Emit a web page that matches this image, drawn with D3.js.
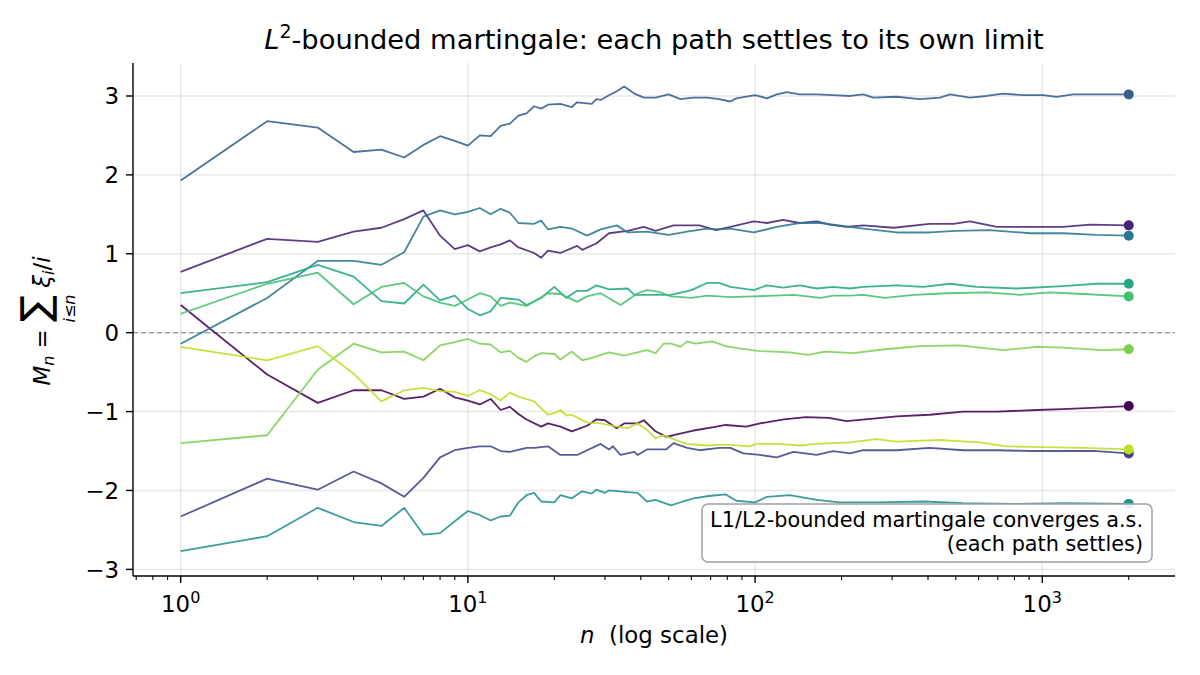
<!DOCTYPE html>
<html><head><meta charset="utf-8">
<script src="https://cdn.jsdelivr.net/npm/d3@7"></script>
<style>body{margin:0;background:#fff}svg{display:block}text{font-family:"DejaVu Sans",sans-serif;fill:#000}</style>
</head><body><svg id="c" width="1200" height="675"></svg>
<script>
// ---- data: [n, M_n] ----
const path0 = [[1,0.35],[2,-0.53],[3,-0.89],[4,-0.73],[5,-0.73],[6,-0.84],[7,-0.81],[8,-0.71],[9,-0.82],[10,-0.86],[11,-0.91],[12,-0.84],[13,-0.98],[14,-0.94],[15,-1.03],[16,-1.1],[18,-1.19],[19,-1.15],[21,-1.19],[23,-1.25],[26,-1.18],[28,-1.10],[30,-1.11],[33,-1.21],[35,-1.15],[39,-1.15],[41,-1.11],[45,-1.25],[49,-1.32],[52,-1.30],[61,-1.24],[71,-1.20],[79,-1.17],[93,-1.19],[104,-1.15],[126,-1.10],[150,-1.07],[181,-1.08],[208,-1.12],[258,-1.09],[311,-1.06],[405,-1.04],[530,-1.00],[695,-1.00],[960,-0.98],[1180,-0.97],[1545,-0.95],[2000,-0.93]];
const path1 = [[1,0.77],[2,1.19],[3,1.15],[4,1.28],[5,1.33],[6,1.44],[7,1.55],[8,1.23],[9,1.06],[10,1.11],[11,1.03],[12,1.08],[13,1.12],[14,1.17],[15,1.08],[17,1.01],[18,0.95],[19,1.04],[21,1.01],[24,1.10],[25,1.05],[28,1.13],[31,1.26],[36,1.29],[41,1.34],[45,1.29],[52,1.36],[64,1.36],[73,1.30],[82,1.34],[99,1.41],[110,1.39],[125,1.43],[143,1.39],[164,1.41],[182,1.37],[208,1.34],[238,1.36],[304,1.33],[405,1.38],[490,1.38],[560,1.41],[695,1.34],[912,1.34],[1180,1.34],[1467,1.37],[2000,1.36]];
const path2 = [[1,-2.33],[2,-1.85],[3,-1.99],[4,-1.76],[5,-1.91],[6,-2.08],[7,-1.84],[8,-1.58],[9,-1.49],[10,-1.46],[11,-1.44],[12,-1.44],[13,-1.50],[14,-1.51],[16,-1.46],[17,-1.46],[19,-1.44],[21,-1.55],[24,-1.55],[29,-1.41],[31,-1.48],[32,-1.44],[34,-1.55],[38,-1.51],[39,-1.55],[42,-1.48],[49,-1.48],[52,-1.40],[58,-1.46],[64,-1.49],[75,-1.46],[82,-1.46],[91,-1.53],[104,-1.55],[119,-1.58],[136,-1.51],[164,-1.55],[187,-1.50],[214,-1.53],[238,-1.49],[311,-1.49],[405,-1.46],[530,-1.49],[695,-1.49],[912,-1.50],[1180,-1.50],[1545,-1.50],[2000,-1.53]];
const path3 = [[1,1.93],[2,2.68],[3,2.60],[4,2.29],[5,2.32],[6,2.22],[7,2.38],[8,2.49],[9,2.43],[10,2.37],[11,2.50],[12,2.49],[13,2.62],[14,2.65],[15,2.75],[16,2.78],[17,2.87],[18,2.84],[19,2.89],[21,2.90],[23,2.86],[24,2.92],[27,2.90],[28,2.96],[29,2.95],[31,3.01],[33,3.06],[35,3.12],[38,3.03],[41,2.98],[45,2.98],[50,3.02],[55,2.96],[61,2.98],[68,2.98],[75,2.96],[82,2.93],[86,2.97],[100,3.01],[110,2.97],[119,3.02],[129,3.05],[143,3.02],[164,3.02],[187,3.01],[214,3.00],[238,3.02],[258,2.98],[311,2.99],[375,2.96],[440,2.98],[477,3.02],[560,2.98],[640,3.00],[731,3.03],[859,3.01],[1007,3.01],[1121,2.99],[1282,3.02],[1545,3.02],[1815,3.02],[2000,3.02]];
const path4 = [[1,-0.14],[2,0.44],[3,0.91],[4,0.91],[5,0.86],[6,1.02],[7,1.47],[8,1.55],[9,1.50],[10,1.53],[11,1.58],[12,1.50],[13,1.57],[14,1.52],[15,1.39],[17,1.38],[18,1.42],[19,1.31],[21,1.34],[23,1.32],[26,1.23],[29,1.31],[33,1.36],[36,1.27],[42,1.28],[50,1.24],[58,1.28],[68,1.32],[75,1.31],[82,1.32],[99,1.27],[119,1.34],[143,1.39],[169,1.39],[214,1.34],[238,1.32],[311,1.27],[405,1.27],[500,1.29],[656,1.30],[912,1.26],[1180,1.26],[1545,1.24],[2000,1.23]];
const path5 = [[1,-2.77],[2,-2.58],[3,-2.22],[4,-2.40],[5,-2.45],[6,-2.22],[7,-2.56],[8,-2.54],[9,-2.39],[10,-2.26],[11,-2.31],[12,-2.38],[13,-2.33],[14,-2.32],[15,-2.15],[16,-2.06],[17,-2.03],[18,-2.14],[20,-2.15],[21,-2.06],[23,-2.10],[25,-2.01],[27,-2.04],[28,-1.99],[30,-2.03],[31,-2.00],[36,-2.02],[39,-2.03],[42,-2.14],[45,-2.12],[51,-2.19],[56,-2.14],[61,-2.10],[69,-2.07],[79,-2.05],[86,-2.13],[100,-2.15],[110,-2.08],[132,-2.06],[164,-2.12],[197,-2.15],[264,-2.15],[386,-2.14],[530,-2.16],[800,-2.17],[1200,-2.16],[2000,-2.17]];
const path6 = [[1,0.50],[2,0.64],[3,0.86],[4,0.71],[5,0.40],[6,0.37],[7,0.61],[8,0.41],[9,0.47],[10,0.30],[11,0.22],[12,0.27],[13,0.44],[14,0.43],[15,0.42],[16,0.35],[18,0.44],[20,0.58],[22,0.44],[24,0.53],[26,0.53],[28,0.60],[31,0.55],[36,0.56],[38,0.48],[46,0.48],[51,0.48],[60,0.54],[68,0.63],[75,0.63],[82,0.58],[99,0.54],[110,0.60],[125,0.57],[143,0.60],[164,0.56],[187,0.58],[214,0.56],[238,0.58],[311,0.60],[385,0.58],[477,0.62],[590,0.58],[815,0.56],[1180,0.59],[1545,0.62],[2000,0.62]];
const path7 = [[1,0.24],[2,0.62],[3,0.76],[4,0.36],[5,0.58],[6,0.63],[7,0.46],[8,0.38],[9,0.34],[10,0.42],[11,0.50],[12,0.46],[13,0.34],[14,0.38],[16,0.34],[19,0.50],[21,0.49],[24,0.39],[26,0.46],[29,0.50],[34,0.35],[39,0.50],[42,0.54],[46,0.52],[51,0.46],[60,0.44],[68,0.47],[82,0.45],[99,0.46],[116,0.47],[136,0.48],[169,0.44],[187,0.47],[214,0.47],[238,0.48],[283,0.44],[357,0.48],[465,0.50],[640,0.51],[835,0.48],[1060,0.51],[1389,0.49],[2000,0.46]];
const path8 = [[1,-1.40],[2,-1.30],[3,-0.47],[4,-0.14],[5,-0.25],[6,-0.24],[7,-0.35],[8,-0.16],[9,-0.12],[10,-0.08],[11,-0.14],[12,-0.15],[13,-0.25],[14,-0.23],[15,-0.32],[16,-0.37],[17,-0.30],[18,-0.26],[20,-0.27],[21,-0.34],[23,-0.24],[25,-0.35],[27,-0.32],[31,-0.25],[35,-0.29],[38,-0.26],[42,-0.22],[45,-0.26],[48,-0.14],[51,-0.14],[55,-0.18],[58,-0.11],[62,-0.14],[71,-0.11],[79,-0.17],[88,-0.20],[102,-0.23],[116,-0.24],[132,-0.25],[153,-0.28],[175,-0.24],[220,-0.26],[283,-0.21],[375,-0.17],[515,-0.16],[731,-0.22],[960,-0.18],[1180,-0.19],[1620,-0.22],[2000,-0.21]];
const path9 = [[1,-0.18],[2,-0.35],[3,-0.17],[4,-0.52],[5,-0.87],[6,-0.73],[7,-0.70],[8,-0.74],[9,-0.75],[10,-0.80],[11,-0.73],[12,-0.78],[13,-0.86],[14,-0.76],[15,-0.81],[17,-0.87],[19,-1.04],[20,-1.02],[21,-0.98],[22,-1.05],[23,-1.04],[26,-1.14],[29,-1.15],[32,-1.18],[36,-1.21],[39,-1.15],[42,-1.23],[45,-1.34],[48,-1.30],[52,-1.35],[58,-1.41],[68,-1.43],[79,-1.42],[96,-1.44],[101,-1.41],[119,-1.41],[143,-1.43],[164,-1.41],[214,-1.39],[264,-1.35],[311,-1.38],[440,-1.36],[605,-1.39],[750,-1.44],[1007,-1.45],[1390,-1.46],[2000,-1.48]];
const allPaths = [path0,path1,path2,path3,path4,path5,path6,path7,path8,path9];
const yTicks = [-3,-2,-1,0,1,2,3];
const xTicks = [1,10,100,1000];
const xTickExp = ["0","1","2","3"];
const titleRest = "-bounded martingale: each path settles to its own limit";
const noteLines = ["L1/L2-bounded martingale converges a.s.","(each path settles)"];

// ---- layout ----
const L=133,R=1175,T=63,B=576;
const svg = d3.select("#c");
const x = d3.scaleLog().domain([Math.pow(10,-0.1661), Math.pow(10,3.4621)]).range([L,R]);
const y = d3.scaleLinear().domain([-3.084,3.418]).range([B,T]);

// grid
const grid = svg.append("g");
grid.selectAll("line.gx").data(xTicks).join("line")
  .attr("x1",d=>x(d)).attr("x2",d=>x(d)).attr("y1",T).attr("y2",B)
  .attr("stroke","#b0b0b0").attr("stroke-opacity",0.3).attr("stroke-width",1.4);
grid.selectAll("line.gy").data(yTicks).join("line")
  .attr("x1",L).attr("x2",R).attr("y1",d=>y(d)).attr("y2",d=>y(d))
  .attr("stroke","#b0b0b0").attr("stroke-opacity",0.3).attr("stroke-width",1.4);

// zero line
svg.append("line").attr("x1",L).attr("x2",R).attr("y1",y(0)).attr("y2",y(0))
  .attr("stroke","#999").attr("stroke-width",1.3).attr("stroke-dasharray","5,3");

// paths
const colorOf = i => d3.interpolateViridis(i*0.1);
const line = d3.line().x(d=>x(d[0])).y(d=>y(d[1]));
svg.append("g").selectAll("path").data(allPaths).join("path")
  .attr("d",line).attr("fill","none")
  .attr("stroke",(d,i)=>colorOf(i)).attr("stroke-width",1.8).attr("stroke-opacity",0.88)
  .attr("stroke-linejoin","round");
svg.append("g").selectAll("circle").data(allPaths).join("circle")
  .attr("cx",d=>x(d[d.length-1][0])).attr("cy",d=>y(d[d.length-1][1]))
  .attr("r",5).attr("fill",(d,i)=>colorOf(i));

// axes spines
svg.append("line").attr("x1",L).attr("x2",L).attr("y1",T).attr("y2",B).attr("stroke","#000").attr("stroke-width",1.4);
svg.append("line").attr("x1",L).attr("x2",R).attr("y1",B).attr("y2",B).attr("stroke","#000").attr("stroke-width",1.4);

// y ticks
const yt = svg.append("g");
yTicks.forEach(v=>{
  yt.append("line").attr("x1",L-7).attr("x2",L).attr("y1",y(v)).attr("y2",y(v)).attr("stroke","#000").attr("stroke-width",1.4);
  yt.append("text").attr("x",L-14).attr("y",y(v)).attr("dy","0.36em").attr("text-anchor","end")
    .style("font-size","22.9px").text(v<0?"\u2212"+(-v):String(v));
});
// x ticks
const [d0,d1] = x.domain();
const minor=[];
for(let e=-1;e<=3;e++) for(let k=2;k<=9;k++){const v=k*Math.pow(10,e); if(v>=d0&&v<=d1) minor.push(v);}
svg.append("g").selectAll("line").data(minor).join("line")
  .attr("x1",d=>x(d)).attr("x2",d=>x(d)).attr("y1",B).attr("y2",B+4)
  .attr("stroke","#000").attr("stroke-width",1.1);
xTicks.forEach((v,i)=>{
  svg.append("line").attr("x1",x(v)).attr("x2",x(v)).attr("y1",B).attr("y2",B+7).attr("stroke","#000").attr("stroke-width",1.4);
  const t = svg.append("text").attr("x",x(v)).attr("y",612).attr("text-anchor","middle").style("font-size","22.9px");
  t.append("tspan").text("10");
  t.append("tspan").attr("dy",-9).style("font-size","16px").text(xTickExp[i]);
});

// x label
const xl = svg.append("text").attr("x",(L+R)/2).attr("y",643).attr("text-anchor","middle").style("font-size","22.9px");
xl.append("tspan").style("font-style","italic").text("n");
xl.append("tspan").text("\u00a0\u00a0(log scale)");

// title
const tt = svg.append("text").attr("x",(L+R)/2).attr("y",49).attr("text-anchor","middle").style("font-size","27.3px");
tt.append("tspan").style("font-style","italic").text("L");
tt.append("tspan").attr("dy",-11).style("font-size","19px").text("2");
tt.append("tspan").attr("dy",11).text(titleRest);

// y label (rotated mathtext)
const ylg = svg.append("g").attr("transform","translate(50,321) rotate(-90)");
const inner = ylg.append("g");
const pieces = [
  {t:"M", s:22.9, it:true, b:0},
  {t:"n", s:16, it:true, b:4},
  {t:"\u00a0=\u00a0", s:22.9, it:false, b:0},
  {t:"\u2211", s:40, it:false, b:-1, under:"i\u2264n"},
  {t:"\u00a0\u03be", s:22.9, it:true, b:0},
  {t:"i", s:16, it:true, b:4},
  {t:"/", s:22.9, it:false, b:0},
  {t:"i", s:22.9, it:true, b:0}
];
let u=0;
pieces.forEach(p=>{
  const t = inner.append("text").attr("x",u).attr("y",p.b).style("font-size",p.s+"px")
    .style("font-style",p.it?"italic":"normal").text(p.t);
  const w = t.node().getComputedTextLength();
  if(p.under){
    inner.append("text").attr("x",u+w/2).attr("y",25).attr("text-anchor","middle")
      .style("font-size","16px").style("font-style","italic").text(p.under);
  }
  u += w;
});
inner.attr("transform",`translate(${-u/2},0)`);

// annotation box
const bx = svg.append("g");
bx.append("rect").attr("x",702).attr("y",504).attr("width",450).attr("height",58).attr("rx",6)
  .attr("fill","#fff").attr("fill-opacity",0.88).attr("stroke","#a0a0a0").attr("stroke-width",1.5);
noteLines.forEach((s,i)=>{
  bx.append("text").attr("x",1143).attr("y",527+i*24).attr("text-anchor","end").style("font-size","20.8px").text(s);
});
</script></body></html>
